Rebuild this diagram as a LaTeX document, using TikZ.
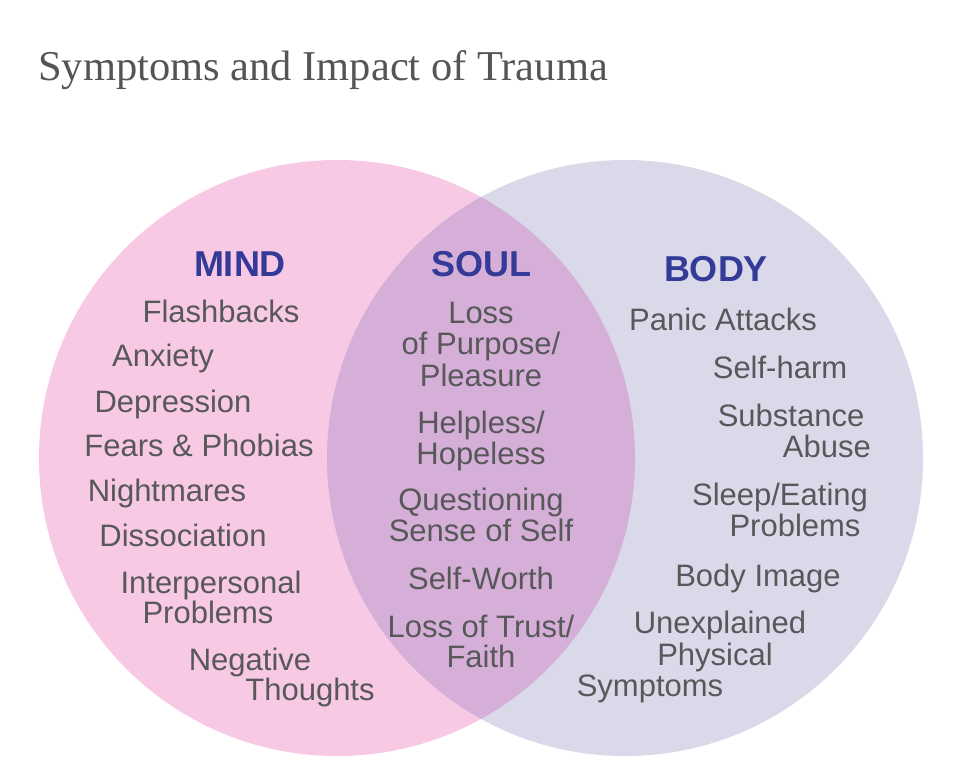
\documentclass[tikz,border=0pt]{standalone}
\usepackage{fontspec}
\setmainfont{Liberation Sans}
\newfontfamily\titlefont{Liberation Serif}
\definecolor{pinkc}{HTML}{F8C9E4}
\definecolor{lavc}{HTML}{D9D9EA}
\definecolor{lensc}{HTML}{D5AFD7}
\definecolor{headc}{HTML}{343A97}
\definecolor{txtc}{HTML}{58585A}
\definecolor{titlec}{HTML}{555555}
\begin{document}
\begin{tikzpicture}[x=1pt,y=-1pt,
  item/.style={anchor=base, text=txtc, font=\fontsize{31}{31}\selectfont, inner sep=0pt},
  head/.style={anchor=base, text=headc, font=\fontsize{36}{36}\selectfont\bfseries, inner sep=0pt}]
\useasboundingbox[fill=white] (0,0) rectangle (960,777);
\fill[pinkc] (337,458) circle[radius=298pt];
\fill[lavc] (625,458) circle[radius=298pt];
\begin{scope}
  \clip (337,458) circle[radius=298pt];
  \fill[lensc] (625,458) circle[radius=298pt];
\end{scope}
\node[anchor=base west, inner sep=0pt, text=titlec, font=\titlefont\fontsize{42.5}{42.5}\selectfont] (title) at (38,80) {Symptoms and Impact of Trauma};
% MIND
\node[head] (mind) at (240,276) {MIND};
\node[item] (m1) at (221,322) {Flashbacks};
\node[item] (m2) at (163,366) {Anxiety};
\node[item] (m3) at (173,412) {Depression};
\node[item] (m4) at (199,456) {Fears \& Phobias};
\node[item] (m5) at (167,501) {Nightmares};
\node[item] (m6) at (183,546) {Dissociation};
\node[item] (m7) at (211,593) {Interpersonal};
\node[item] (m8) at (208,623) {Problems};
\node[item] (m9) at (250,670) {Negative};
\node[item] (m10) at (310,700) {Thoughts};
% SOUL
\node[head] (soul) at (481,276) {SOUL};
\node[item] (s1) at (481,323) {Loss};
\node[item] (s2) at (481,354) {of Purpose/};
\node[item] (s3) at (481,386) {Pleasure};
\node[item] (s4) at (481,433) {Helpless/};
\node[item] (s5) at (481,464) {Hopeless};
\node[item] (s6) at (481,510) {Questioning};
\node[item] (s7) at (481,541) {Sense of Self};
\node[item] (s8) at (481,589) {Self-Worth};
\node[item] (s9) at (481,637) {Loss of Trust/};
\node[item] (s10) at (481,667) {Faith};
% BODY
\node[head] (body) at (716,281) {BODY};
\node[item] (b1) at (723,330) {Panic Attacks};
\node[item] (b2) at (780,378) {Self-harm};
\node[item] (b3) at (791,426) {Substance};
\node[item, anchor=base east] (b4) at (871,457) {Abuse};
\node[item] (b5) at (780,505) {Sleep/Eating};
\node[item] (b6) at (795,536) {Problems};
\node[item] (b7) at (758,586) {Body Image};
\node[item] (b8) at (720,633) {Unexplained};
\node[item] (b9) at (715,665) {Physical};
\node[item] (b10) at (650,696) {Symptoms};
\end{tikzpicture}
\end{document}
